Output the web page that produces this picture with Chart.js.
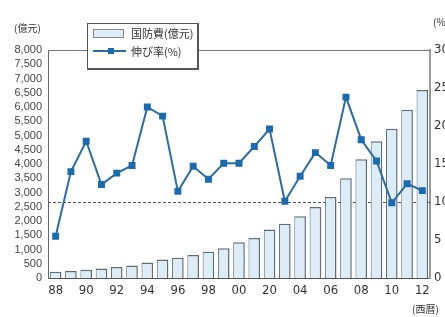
<!DOCTYPE html>
<html>
<head>
<meta charset="utf-8">
<script src="https://cdn.jsdelivr.net/npm/chart.js@4"></script>
<style>
  body { margin: 0; background: #fff; }
  #wrap { position: relative; width: 445px; height: 317px; overflow: hidden; }
  .lbl { position: absolute; font-family: "Noto Sans CJK JP", sans-serif; color: #333; white-space: nowrap; }
  #legend {
    position: absolute; left: 87px; top: 23px; width: 109px; height: 44px;
    background: #fff; border: 1px solid #555; border-bottom-width: 2px; border-right-width: 2px;
    font-family: "Noto Sans CJK JP", sans-serif; font-size: 11px; color: #333;
  }
  .row { position: absolute; left: 0; height: 14px; line-height: 14px; }
  .swatch { position: absolute; left: 5px; top: 3px; width: 29px; height: 7px; background: #dcedf8; border: 1px solid #888; }
  .lline { position: absolute; left: 5px; top: 6px; width: 33px; height: 2px; background: #2b6ca3; }
  .lmark { position: absolute; left: 20px; top: 4px; width: 6px; height: 6px; background: #1a6bb0; }
  .ltext { position: absolute; left: 43px; top: 0; }
</style>
</head>
<body>
<div id="wrap">
  <canvas id="chart" width="445" height="317"></canvas>
  <span class="lbl" style="left:14px; top:20px; font-size:10px;">(億元)</span>
  <span class="lbl" style="left:433px; top:14px; font-size:10px;">(%)</span>
  <span class="lbl" style="left:412px; top:301px; font-size:10px;">(西暦)</span>
  <div id="legend">
    <div class="row" style="top:2px; width:108px;"><div class="swatch"></div><span class="ltext">国防費(億元)</span></div>
    <div class="row" style="top:20px; width:108px;"><div class="lline"></div><div class="lmark"></div><span class="ltext">伸び率(%)</span></div>
  </div>
</div>
<script>
// ---------- DATA ----------
const categories = ['1988', '1989', '1990', '1991', '1992', '1993', '1994', '1995', '1996', '1997', '1998', '1999',
  '2000', '2001', '2002', '2003', '2004', '2005', '2006', '2007', '2008', '2009', '2010', '2011', '2012'];
const tickLabels = ['88', '', '90', '', '92', '', '94', '', '96', '', '98', '',
  '00', '', '20', '', '04', '', '06', '', '08', '', '10', '', '12'];
// 国防費 (億元)
const budget = [218, 250, 288, 332, 388, 437, 548, 648, 712, 808, 925, 1045,
  1255, 1405, 1700, 1900, 2170, 2490, 2840, 3500, 4170, 4800, 5240, 5900, 6600];
// 伸び率 (%)
const growth = [5.5, 14.0, 18.0, 12.3, 13.8, 14.8, 22.5, 21.3, 11.4, 14.7, 13.0, 15.1,
  15.1, 17.3, 19.6, 10.1, 13.4, 16.5, 14.8, 23.8, 18.2, 15.4, 9.9, 12.4, 11.5];
const refLine = 10; // dashed line on the % axis

const narrowFont = '"DejaVu Sans Condensed", "Liberation Sans", sans-serif';

// top frame line + dashed 10% line
const framePlugin = {
  id: 'frame',
  beforeDatasetsDraw(chart) {
    const { ctx, chartArea, scales } = chart;
    ctx.save();
    ctx.strokeStyle = '#777';
    ctx.lineWidth = 1;
    ctx.beginPath();
    ctx.moveTo(chartArea.left, chartArea.top + 0.5);
    ctx.lineTo(chartArea.right, chartArea.top + 0.5);
    ctx.stroke();
    const y = Math.round(scales.y1.getPixelForValue(refLine)) + 0.5;
    ctx.strokeStyle = '#555';
    ctx.setLineDash([3, 2]);
    ctx.beginPath();
    ctx.moveTo(chartArea.left, y);
    ctx.lineTo(chartArea.right, y);
    ctx.stroke();
    ctx.restore();
  }
};

const ctx = document.getElementById('chart').getContext('2d');
new Chart(ctx, {
  data: {
    labels: categories,
    datasets: [
      {
        type: 'line',
        label: '伸び率(%)',
        data: growth,
        yAxisID: 'y1',
        order: 0,
        borderColor: '#2b6ca3',
        borderWidth: 2,
        pointStyle: 'rect',
        pointRadius: 3.5,
        pointBackgroundColor: '#1a6bb0',
        pointBorderColor: '#1a6bb0',
        tension: 0,
      },
      {
        type: 'bar',
        label: '国防費(億元)',
        data: budget,
        yAxisID: 'y',
        order: 1,
        backgroundColor: '#dcedf8',
        borderColor: '#5f6d78',
        borderWidth: { top: 1.5, left: 1, right: 1.5, bottom: 0 },
        borderSkipped: 'bottom',
        barPercentage: 0.76,
        categoryPercentage: 1,
      },
    ],
  },
  options: {
    responsive: false,
    animation: false,
    layout: { padding: { top: 50, left: 0, right: 0, bottom: 0 } },
    plugins: {
      legend: { display: false },
      tooltip: { enabled: false },
    },
    scales: {
      x: {
        offset: true,
        grid: { display: false, drawTicks: false },
        border: { display: true, color: '#555', width: 1 },
        ticks: {
          autoSkip: false,
          maxRotation: 0,
          padding: 5,
          color: '#333',
          font: { family: narrowFont, size: 13 },
          callback: (v, i) => tickLabels[i],
        },
        afterFit: (s) => { s.height = 39; },
      },
      y: {
        position: 'left',
        min: 0,
        max: 8000,
        grid: { display: false, drawTicks: false },
        border: { display: true, color: '#666', width: 1 },
        ticks: {
          stepSize: 500,
          autoSkip: false,
          padding: 6,
          color: '#444',
          font: { family: 'Liberation Sans', size: 11 },
          callback: (v) => v.toLocaleString('en-US'),
        },
        afterFit: (s) => { s.width = 48; },
      },
      y1: {
        position: 'right',
        min: 0,
        max: 30,
        grid: { display: false, drawTicks: false },
        border: { display: true, color: '#9a9a9a', width: 2 },
        ticks: {
          stepSize: 5,
          autoSkip: false,
          padding: 4,
          color: '#333',
          font: { family: narrowFont, size: 13 },
        },
        afterFit: (s) => { s.width = 15; },
      },
    },
  },
  plugins: [framePlugin],
});
</script>
</body>
</html>
